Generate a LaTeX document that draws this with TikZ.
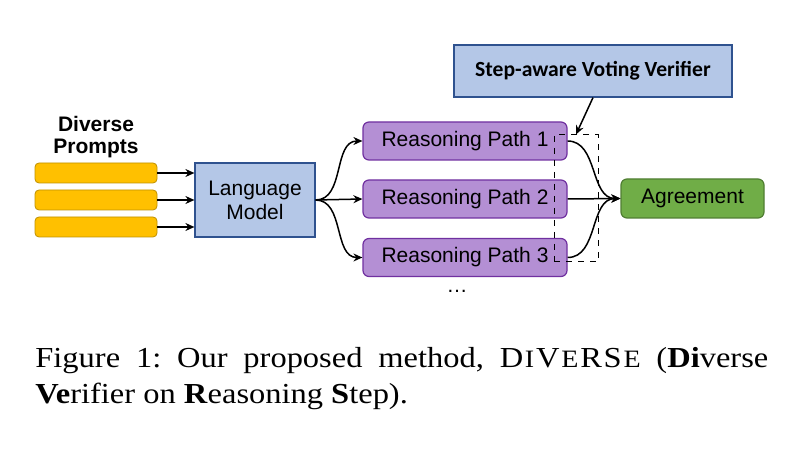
\documentclass[tikz,border=0pt]{standalone}
\usepackage{fontspec}
\setmainfont{Liberation Serif}
\newfontfamily\arialfont{Liberation Sans}
\newfontfamily\calibrifont{Carlito}
\usepackage{xcolor}
\usepackage{tikz}
\usetikzlibrary{arrows.meta,positioning}

\definecolor{promptfill}{HTML}{FFC000}
\definecolor{promptline}{HTML}{BF9000}
\definecolor{modelfill}{HTML}{B4C7E7}
\definecolor{modelline}{HTML}{2F528F}
\definecolor{pathfill}{HTML}{B48FD4}
\definecolor{pathline}{HTML}{7030A0}
\definecolor{agreefill}{HTML}{70AD47}
\definecolor{agreeline}{HTML}{507E32}

\newcommand{\fakesc}[1]{{\fontsize{12.5}{12}\selectfont #1}}
\newcommand{\capline}[1]{\scalebox{1.12}[1]{#1}}
\newcommand{\methodname}{D\kern0.8pt\fakesc{I}\kern0.8pt V\kern0.8pt\fakesc{E}\kern0.8pt R\kern0.8pt S\kern0.8pt\fakesc{E}}

\begin{document}
\begin{tikzpicture}[x=0.5pt,y=-0.5pt,
  >={Stealth[length=4.5pt,width=4pt]},
  every node/.style={font=\arialfont\fontsize{10.5}{12}\selectfont},
  prompt/.style={draw=promptline, fill=promptfill, rounded corners=2pt,
    minimum width=61pt, minimum height=10pt, inner sep=0pt},
  modelbox/.style={draw=modelline, fill=modelfill, line width=0.6pt,
    minimum width=60pt, minimum height=37pt, inner sep=0pt, align=center},
  pathbox/.style={draw=pathline, fill=pathfill, rounded corners=3pt, line width=0.6pt,
    minimum width=102pt, minimum height=19pt, inner sep=0pt},
  agreebox/.style={draw=agreeline, fill=agreefill, rounded corners=3pt, line width=0.6pt,
    minimum width=71.5pt, minimum height=19.5pt, inner sep=0pt},
  conn/.style={->, line width=0.75pt}]
  \useasboundingbox (0,0) rectangle (800,449);

  % prompts and model
  \node[font=\arialfont\bfseries\fontsize{10.5}{11}\selectfont, align=center] (title) at (96,137) {Diverse\\Prompts};
  \node[prompt] (pr1) at (96,173) {};
  \node[prompt] (pr2) at (96,200) {};
  \node[prompt] (pr3) at (96,227) {};
  \node[modelbox] (lm) at (255,200) {Language\\Model};
  \draw[conn] (pr1.east) -- (pr1.east -| lm.west);
  \draw[conn] (pr2.east) -- (pr2.east -| lm.west);
  \draw[conn] (pr3.east) -- (pr3.east -| lm.west);

  % reasoning paths
  \node[pathbox] (p1) at (465,141) {Reasoning Path 1};
  \node[pathbox] (p2) at (465,199) {Reasoning Path 2};
  \node[pathbox] (p3) at (465,257.5) {Reasoning Path 3};
  \node (dots) at (457,291) {\ldots};
  \draw[conn] (lm.east) to[out=0,in=180] (p1.west);
  \draw[conn] (lm.east) -- (p2.west);
  \draw[conn] (lm.east) to[out=0,in=180] (p3.west);

  % agreement
  \node[agreebox] (agree) at (692.5,198.5) {Agreement};
  \draw[conn] (p1.east) to[out=0,in=180] (agree.west);
  \draw[conn] (p2.east) -- (agree.west);
  \draw[conn] (p3.east) to[out=0,in=180] (agree.west);

  % verifier
  \node[draw, dashed, line width=0.5pt, minimum width=22pt, minimum height=63.5pt,
    inner sep=0pt] (vbox) at (576,198.5) {};
  \node[modelbox, minimum width=139pt, minimum height=26pt,
    font=\calibrifont\bfseries\fontsize{10.8}{12}\selectfont] (verif) at (593,71) {Step-aware Voting Verifier};
  \draw[conn] (verif.south) -- (vbox.north);

  % caption
  \node[anchor=base west, align=left, inner sep=0pt,
    font=\rmfamily\frenchspacing\fontsize{14.5}{18}\selectfont] (caption) at (35,404)
    {\capline{\makebox[327.2pt][s]{Figure 1: Our proposed method, \methodname{} (\textbf{Di}verse}}\\
     \capline{\textbf{Ve}rifier on \textbf{R}easoning \textbf{S}tep).}};
\end{tikzpicture}
\end{document}
